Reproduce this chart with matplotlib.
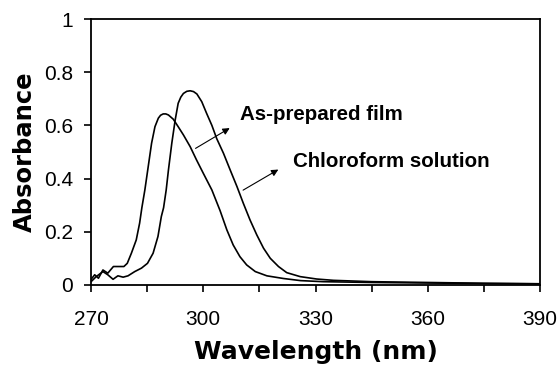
import matplotlib
matplotlib.use("Agg")
import matplotlib.pyplot as plt
from matplotlib.ticker import MultipleLocator, FuncFormatter

# as-prepared film (left peak)
film_wl = [270.0, 271.0, 272.0, 273.2, 274.5, 276.0, 278.8, 279.7, 280.8, 282.1,
           283.0, 283.6, 284.4, 285.3, 286.2, 287.1, 288.0, 288.6, 289.3, 290.0,
           290.7, 292.0, 293.3, 294.7, 296.5, 298.2, 300.0, 302.3, 304.5, 306.3,
           308.0, 309.8, 311.6, 313.9, 317.0, 321.4, 326.0, 332.0, 345.0, 360.0,
           375.0, 390.0]
film_abs = [0.020, 0.038, 0.025, 0.056, 0.044, 0.069, 0.069, 0.081, 0.119, 0.169,
            0.232, 0.290, 0.357, 0.445, 0.533, 0.595, 0.627, 0.638, 0.643, 0.643,
            0.639, 0.623, 0.595, 0.564, 0.520, 0.470, 0.420, 0.357, 0.279, 0.207,
            0.150, 0.106, 0.075, 0.050, 0.034, 0.024, 0.016, 0.012, 0.009, 0.007,
            0.005, 0.004]

# chloroform solution (right peak)
sol_wl = [270.1, 271.4, 273.2, 274.5, 275.9, 277.2, 278.6, 279.9, 281.7, 283.5,
          285.1, 286.6, 287.9, 288.8, 289.4, 290.1, 290.7, 291.6, 292.5, 293.3,
          294.0, 294.7, 295.6, 296.5, 297.4, 298.3, 299.6, 300.9, 302.3, 303.6,
          305.4, 307.2, 309.0, 310.7, 312.5, 314.3, 316.1, 317.9, 320.1, 322.3,
          325.9, 330.3, 334.8, 345.0, 360.0, 375.0, 390.0]
sol_abs = [0.013, 0.031, 0.050, 0.038, 0.021, 0.034, 0.029, 0.034, 0.050, 0.063,
           0.081, 0.119, 0.182, 0.257, 0.290, 0.357, 0.432, 0.533, 0.620, 0.683,
           0.706, 0.720, 0.728, 0.730, 0.727, 0.718, 0.689, 0.645, 0.600, 0.550,
           0.495, 0.432, 0.370, 0.307, 0.244, 0.188, 0.138, 0.100, 0.069, 0.046,
           0.031, 0.022, 0.017, 0.012, 0.009, 0.006, 0.004]

plt.rcParams['font.family'] = ['Liberation Sans', 'DejaVu Sans']

fig = plt.figure(figsize=(5.58, 3.69), dpi=100)
ax = fig.add_axes([0.163, 0.228, 0.805, 0.7205])

ax.plot(film_wl, film_abs, color='black', lw=1.2)
ax.plot(sol_wl, sol_abs, color='black', lw=1.2)

ax.set_xlim(270, 390)
ax.set_ylim(0, 1)
ax.xaxis.set_major_locator(MultipleLocator(30))
ax.xaxis.set_minor_locator(MultipleLocator(15))
ax.yaxis.set_major_locator(MultipleLocator(0.2))
ax.yaxis.set_major_formatter(FuncFormatter(lambda v, p: f"{v:g}"))

ax.tick_params(axis='both', which='both', direction='out', length=5, width=1.2,
               labelsize=15, colors='black')
ax.tick_params(axis='x', pad=13)
ax.tick_params(axis='y', pad=8)
for s in ax.spines.values():
    s.set_linewidth(1.3)

ax.set_xlabel('Wavelength (nm)', fontsize=18, fontweight='bold',
              family='DejaVu Sans', labelpad=8)
ax.set_ylabel('Absorbance', fontsize=17.5, fontweight='bold',
              family='DejaVu Sans', labelpad=5)

ax.annotate('', xy=(307.7, 0.595), xytext=(297.3, 0.508),
            arrowprops=dict(arrowstyle='-|>', color='black', lw=0.8,
                            mutation_scale=10))
ax.annotate('', xy=(320.7, 0.439), xytext=(310.0, 0.351),
            arrowprops=dict(arrowstyle='-|>', color='black', lw=0.8,
                            mutation_scale=10))
ax.text(309.8, 0.64, 'As-prepared film', fontsize=14.8, fontweight='bold',
        va='center', ha='left')
ax.text(324.0, 0.465, 'Chloroform solution', fontsize=14.8, fontweight='bold',
        va='center', ha='left')

fig.savefig('out.png', dpi=100)
